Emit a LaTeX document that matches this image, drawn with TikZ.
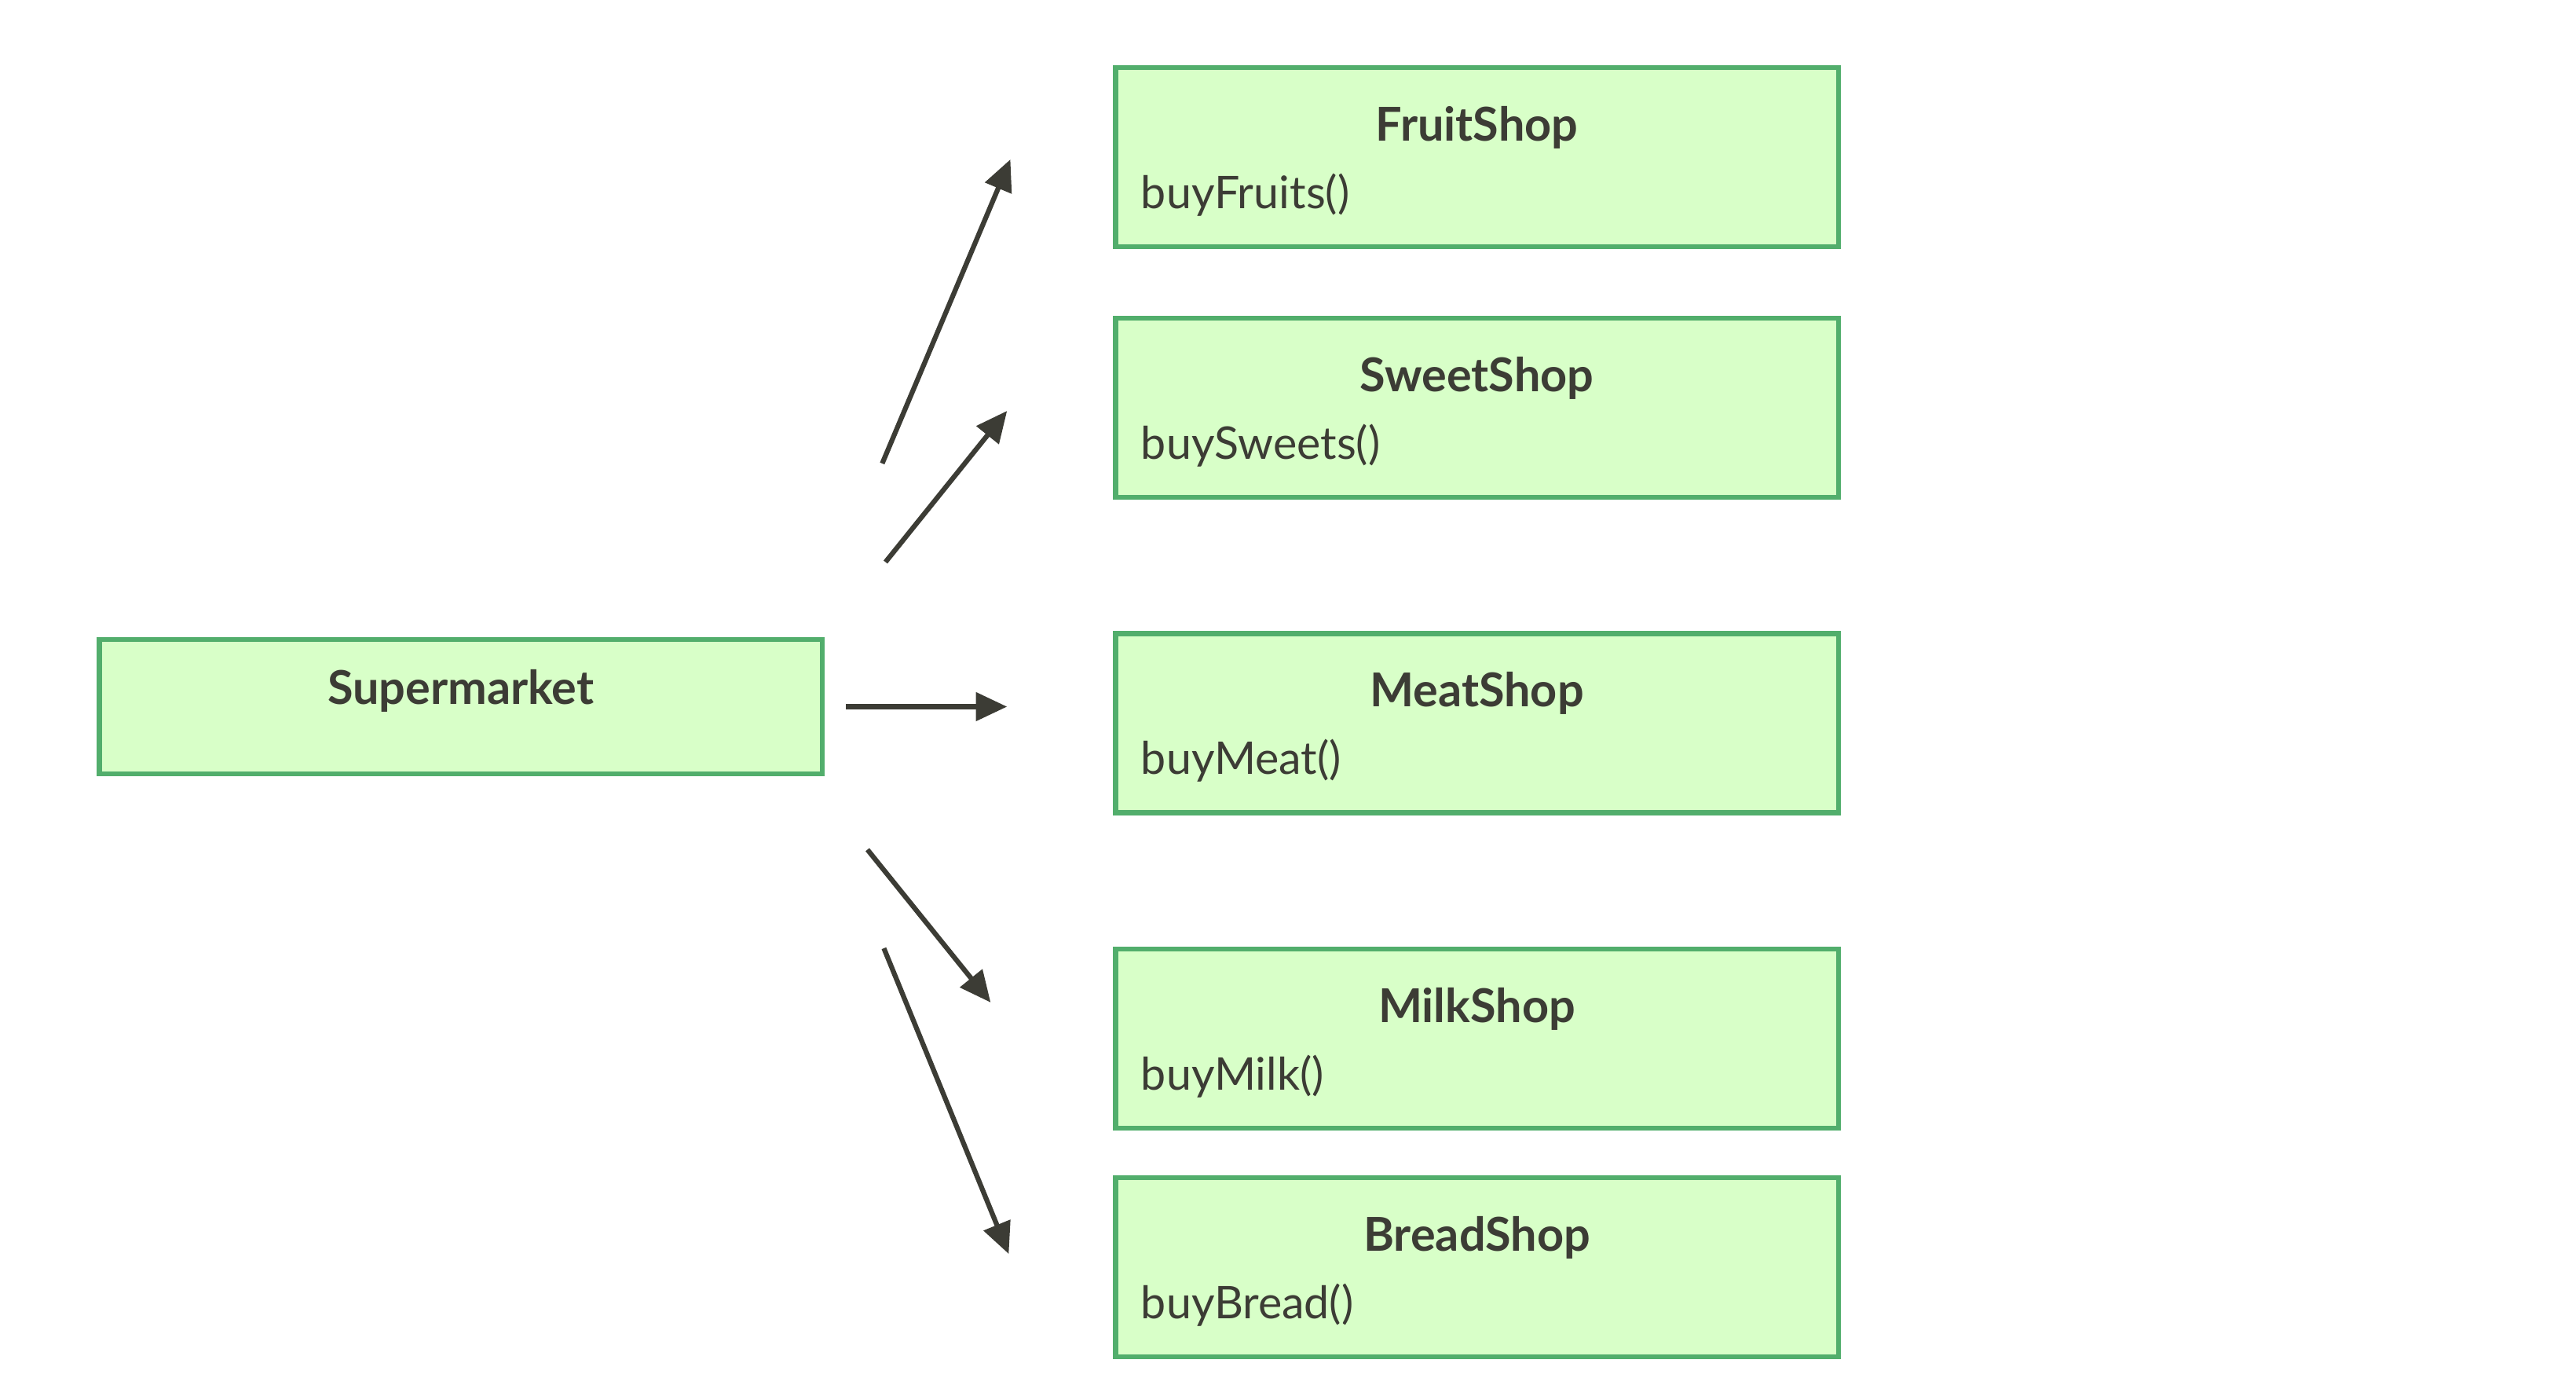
\documentclass[tikz,border=0pt]{standalone}
\usepackage{fontspec}
\setmainfont{Lato}
\usetikzlibrary{arrows.meta,positioning}
\definecolor{boxfill}{HTML}{D8FFC8}
\definecolor{boxline}{HTML}{52AE6C}
\definecolor{ink}{HTML}{3C3C35}
\tikzset{
    shopbox/.style={draw=boxline, fill=boxfill, line width=1.5pt, minimum width=220pt, minimum height=54.5pt, inner sep=0pt},
    shoptitle/.style={font=\fontsize{14.2}{16}\selectfont\bfseries, text=ink},
    shopmethod/.style={font=\fontsize{13.7}{16}\selectfont, text=ink, anchor=west},
    callarrow/.style={draw=ink, line width=1.5pt, -{Triangle[length=9.5pt,width=8.5pt]}}
}
\begin{document}
\begin{tikzpicture}[x=0.5pt, y=-0.5pt]
            \useasboundingbox (0,0) rectangle (1568,845);
            \node[shopbox, minimum height=41pt] (market) at (280.5,430) {};
            \node[shoptitle] (marketT) at ([yshift=-16.5pt]market.north) {Supermarket};
            % shops
            \node[shopbox] (fruit) at (899,95.5) {};
            \node[shoptitle] (fruitT) at ([yshift=-19pt]fruit.north) {FruitShop};
            \node[shopmethod] (fruitM) at ([xshift=5pt,yshift=-39.5pt]fruit.north west) {buyFruits()};
            \node[shopbox] (sweet) at (899,248) {};
            \node[shoptitle] (sweetT) at ([yshift=-19pt]sweet.north) {SweetShop};
            \node[shopmethod] (sweetM) at ([xshift=5pt,yshift=-39.5pt]sweet.north west) {buySweets()};
            \node[shopbox] (meat) at (899,440) {};
            \node[shoptitle] (meatT) at ([yshift=-19pt]meat.north) {MeatShop};
            \node[shopmethod] (meatM) at ([xshift=5pt,yshift=-39.5pt]meat.north west) {buyMeat()};
            \node[shopbox] (milk) at (899,632) {};
            \node[shoptitle] (milkT) at ([yshift=-19pt]milk.north) {MilkShop};
            \node[shopmethod] (milkM) at ([xshift=5pt,yshift=-39.5pt]milk.north west) {buyMilk()};
            \node[shopbox] (bread) at (899,771) {};
            \node[shoptitle] (breadT) at ([yshift=-19pt]bread.north) {BreadShop};
            \node[shopmethod] (breadM) at ([xshift=5pt,yshift=-39.5pt]bread.north west) {buyBread()};
            % arrows
            \coordinate (fruitS) at (537,282);
            \coordinate (fruitE) at (615,97);
            \coordinate (sweetS) at (539,342);
            \coordinate (sweetE) at (613,250);
            \coordinate (meatS) at (515,430);
            \coordinate (meatE) at (613,430);
            \coordinate (milkS) at (528,517);
            \coordinate (milkE) at (603,610);
            \coordinate (breadS) at (538,577);
            \coordinate (breadE) at (614,763);
            \draw[callarrow] (fruitS) -- (fruitE);
            \draw[callarrow] (sweetS) -- (sweetE);
            \draw[callarrow] (meatS) -- (meatE);
            \draw[callarrow] (milkS) -- (milkE);
            \draw[callarrow] (breadS) -- (breadE);
        \end{tikzpicture}
\end{document}
